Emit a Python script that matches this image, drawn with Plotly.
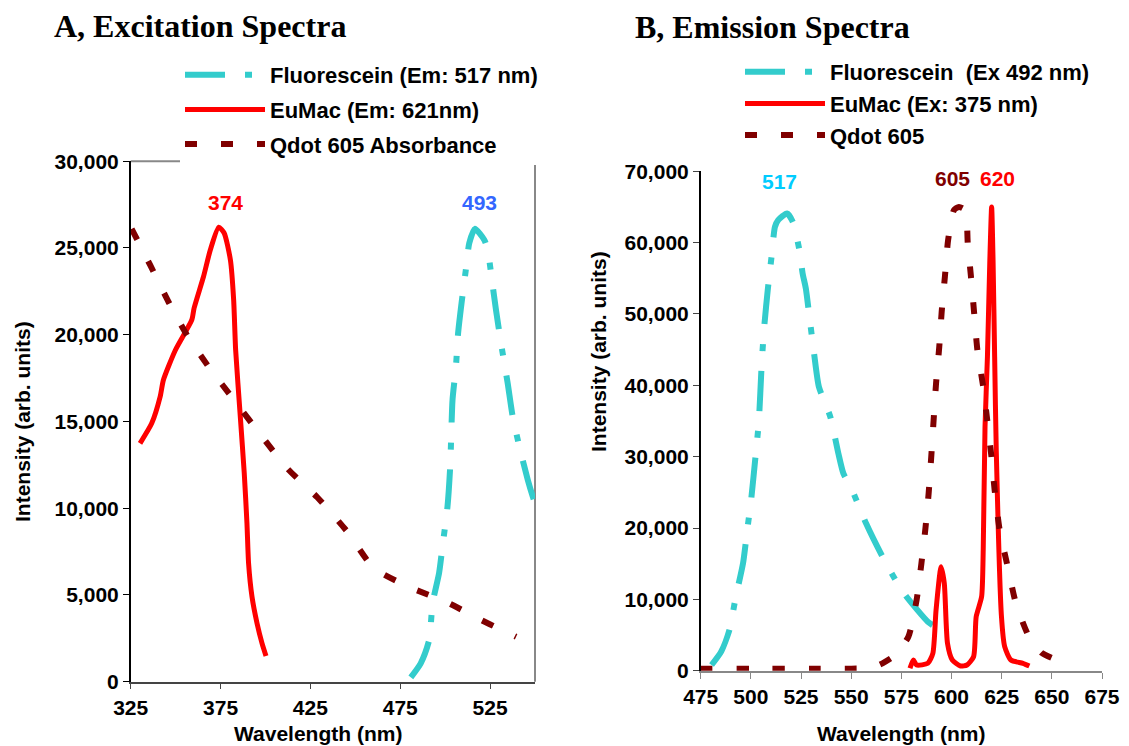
import plotly.graph_objects as go

# ---------------- Panel A: Excitation spectra ----------------
fl_ex_wl = [480.9, 486.4, 491.1, 493.0, 496.6, 498.5, 501.3, 502.8, 504.1, 506.0, 507.2, 509.1,
            511.5, 513.4, 516.5, 521.8, 523.7, 525.9, 528.3, 531.1, 534.8, 537.6, 541.3, 546.0,
            548.8, 551.6]
fl_ex_int = [250, 1060, 2400, 4520, 6250, 7780, 10090, 12390, 16240, 18160, 20080, 21810,
             23730, 25270, 26100, 25460, 24880, 23250, 21420, 19500, 17200, 15270, 13550, 11630,
             10660, 9800]

eu_ex_wl = [330.2, 336.7, 341.4, 343.2, 349.9, 359.0, 360.3, 365.5, 369.3, 374.0, 377.0, 380.5,
            382.3, 383.4, 386.0, 388.2, 389.7, 390.6, 392.5, 395.3, 398.1, 400.3]
eu_ex_int = [13740, 14890, 16430, 17390, 19120, 20850, 21540, 23340, 24880, 26190, 25860, 24300,
             22000, 19120, 15270, 12010, 9130, 6820, 4900, 3370, 2210, 1480]

qd_abs_wl = [325.5, 335.8, 346.0, 356.3, 368.3, 383.2, 398.1, 412.1, 428.8, 445.5, 460.4, 480.9,
             500.4, 519.9, 539.5]
qd_abs_int = [26100, 24020, 21900, 19980, 18160, 16140, 14120, 12300, 10630, 8650, 6540, 5420,
              4610, 3560, 2590]

# ---------------- Panel B: Emission spectra ----------------
fl_em_wl = [480.4, 485.2, 489.3, 492.5, 496.1, 498.2, 500.3, 502.3, 503.9, 504.7, 505.5, 506.8,
            508.4, 510.3, 512.0, 513.6, 518.0, 520.9, 524.2, 525.8, 527.4, 529.2, 531.5, 533.9,
            539.6, 543.6, 546.1, 550.1, 557.4, 565.6, 572.1, 576.9, 588.2, 593.1]
fl_em_int = [810, 2680, 5710, 10380, 15060, 19720, 24380, 29990, 34670, 38870, 43530, 48670,
             53330, 58000, 62200, 63140, 64080, 62900, 58940, 55670, 53570, 49590, 44470, 39790,
             35590, 30460, 27660, 25560, 20660, 15980, 12720, 10620, 6880, 5950]

eu_em_wl = [579.3, 581.0, 582.6, 588.2, 590.7, 592.3, 594.8, 596.4, 598.0, 600.4, 604.5, 607.7,
            611.0, 612.3, 615.0, 615.8, 616.7, 617.9, 619.1, 620.0, 620.7, 621.5, 622.3, 624.9,
            626.5, 629.6, 635.6, 638.8]
eu_em_int = [350, 1510, 810, 1050, 2450, 8520, 14580, 12260, 3850, 1510, 670, 810,
             1970, 7580, 10380, 16920, 34190, 43990, 57540, 65000, 57540, 43990, 30900, 7580,
             3380, 1510, 1050, 670]

qd_em_wl = [475, 480, 490, 500, 510, 520, 530, 540, 550, 560, 565.6, 572, 578.5, 582.6, 585.0,
            587.0, 588.6, 589.9, 592.3, 593.9, 595.1, 596.7, 598.3, 601.2, 603.7, 606.9, 608.1,
            609.7, 611.3, 612.9, 615.8, 617.8, 619.9, 621.5, 624.0, 628.0, 632.1, 638.6, 645,
            654.5, 657]
qd_em_int = [300, 300, 300, 300, 300, 300, 300, 300, 300, 400, 1050, 2200, 4780, 9920, 15060,
             19960, 24860, 29990, 40270, 45390, 50300, 55200, 60340, 64540, 65000, 64540, 59870,
             55200, 50070, 44930, 39790, 35130, 29990, 25320, 19720, 14580, 9450, 4780, 2500,
             1270, 1000]

names_a = ["Fluorescein (Em: 517 nm)", "EuMac (Em: 621nm)", "Qdot 605 Absorbance"]
names_b = ["Fluorescein  (Ex 492 nm)", "EuMac (Ex: 375 nm)", "Qdot 605"]

# peak labels: (x, y, text, color)
peaks_a = [(378, 27600, "374", "#FF0000"), (519.3, 27600, "493", "#3366FF")]
peaks_b = [(514.1, 68600, "517", "#00CCFF"), (600.3, 69000, "605", "#800000"),
           (622.7, 69000, "620", "#FF0000")]

CYAN = "#33CCCC"
RED = "#FF0000"
DRED = "#800000"
FONT = "Liberation Sans, Arial, sans-serif"
FS = 21

# page has an 8px body margin: lay the figure out so it fills the window exactly
OFF = 8
FW, FH = 1121, 738


def fx(x):
    return (x - OFF) / FW


def fy(y):
    return 1 - (y - OFF) / FH


fig = go.Figure()


def add(x, y, name, color, dash, width, xa, ya, legend, grp):
    fig.add_trace(go.Scatter(
        x=x, y=y, name=name, mode="lines",
        line=dict(color=color, dash=dash, width=width, shape="spline", smoothing=0.6),
        xaxis=xa, yaxis=ya, legend=legend, legendgroup=grp))


FL_DASH = "40px,20px,7px,20px"
QD_DASH = "12px,24px"

add(fl_ex_wl, fl_ex_int, names_a[0], CYAN, FL_DASH, 6, "x", "y", "legend", "a1")
add(eu_ex_wl, eu_ex_int, names_a[1], RED, "solid", 5, "x", "y", "legend", "a2")
add(qd_abs_wl, qd_abs_int, names_a[2], DRED, QD_DASH, 6, "x", "y", "legend", "a3")
add(fl_em_wl, fl_em_int, names_b[0], CYAN, FL_DASH, 6, "x2", "y2", "legend2", "b1")
add(eu_em_wl, eu_em_int, names_b[1], RED, "solid", 5, "x2", "y2", "legend2", "b2")
add(qd_em_wl, qd_em_int, names_b[2], DRED, QD_DASH, 6, "x2", "y2", "legend2", "b3")

tickfont = dict(family=FONT, size=FS, color="black", weight="bold")
legfont = dict(family=FONT, size=22, color="black", weight="bold")

common = dict(ticks="outside", ticklen=6, showline=True, showgrid=False, zeroline=False,
              tickfont=tickfont, automargin=False, ticklabeloverflow="allow")

fig.update_layout(
    width=FW, height=FH, margin=dict(l=0, r=0, t=0, b=0, autoexpand=False),
    paper_bgcolor="white", plot_bgcolor="white",
    xaxis=dict(domain=[fx(130.7), fx(535)], range=[325, 550], tickvals=[325, 375, 425, 475, 525],
               tickcolor="#444", linecolor="#444", linewidth=1.5, anchor="y", **common),
    yaxis=dict(domain=[fy(681.7), fy(161.2)], range=[0, 30000], dtick=5000,
               tickformat=",", tickcolor="black", linecolor="black", linewidth=1.5,
               anchor="x", **common),
    xaxis2=dict(domain=[fx(700.7), fx(1102)], range=[475, 675], dtick=25, tick0=475,
                tickcolor="#888", linecolor="#888", linewidth=2, anchor="y2", **common),
    yaxis2=dict(domain=[fy(670.8), fy(171.2)], range=[0, 70000], dtick=10000,
                tickformat=",", tickcolor="#444", linecolor="black", linewidth=1.5,
                anchor="x2", **common),
    legend=dict(x=fx(180), y=fy(54), xanchor="left", yanchor="top", bgcolor="white",
                font=legfont, itemwidth=80, tracegroupgap=3, traceorder="grouped"),
    legend2=dict(x=fx(740), y=fy(51), xanchor="left", yanchor="top", bgcolor="white",
                 font=legfont, itemwidth=80, tracegroupgap=0, traceorder="grouped"),
)

# Frame of panel A (top and right border, gray)
fig.add_shape(type="line", xref="x domain", yref="y domain", x0=0, x1=1, y0=1, y1=1,
              line=dict(color="#888", width=2), layer="below")
fig.add_shape(type="line", xref="x domain", yref="y domain", x0=1, x1=1, y0=0, y1=1,
              line=dict(color="#888", width=2), layer="below")

ann = []
for (x, y, t, c) in peaks_a:
    ann.append(dict(x=x, y=y, xref="x", yref="y", text=t, showarrow=False,
                    xanchor="center", yanchor="middle",
                    font=dict(family=FONT, size=FS, color=c, weight="bold")))
for (x, y, t, c) in peaks_b:
    ann.append(dict(x=x, y=y, xref="x2", yref="y2", text=t, showarrow=False,
                    xanchor="center", yanchor="middle",
                    font=dict(family=FONT, size=FS, color=c, weight="bold")))

title_font = dict(family="Liberation Serif, Times New Roman, serif", size=32, color="black",
                  weight="bold")
ann.append(dict(x=fx(52), y=fy(26), xref="paper", yref="paper", xanchor="left",
                yanchor="middle", text="A, Excitation Spectra", showarrow=False, font=title_font))
ann.append(dict(x=fx(633), y=fy(27), xref="paper", yref="paper", xanchor="left",
                yanchor="middle", text="B, Emission Spectra", showarrow=False, font=title_font))

lab_font = dict(family=FONT, size=FS, color="black", weight="bold")
ann.append(dict(x=fx(318), y=fy(733), xref="paper", yref="paper", xanchor="center",
                yanchor="middle", text="Wavelength (nm)", showarrow=False, font=lab_font))
ann.append(dict(x=fx(901), y=fy(733), xref="paper", yref="paper", xanchor="center",
                yanchor="middle", text="Wavelength (nm)", showarrow=False, font=lab_font))
ann.append(dict(x=fx(22), y=fy(422), xref="paper", yref="paper", xanchor="center",
                yanchor="middle", text="Intensity (arb. units)", textangle=-90,
                showarrow=False, font=lab_font))
ann.append(dict(x=fx(598), y=fy(352), xref="paper", yref="paper", xanchor="center",
                yanchor="middle", text="Intensity (arb. units)", textangle=-90,
                showarrow=False, font=lab_font))

fig.update_layout(annotations=ann)
fig.write_html("out.html")
